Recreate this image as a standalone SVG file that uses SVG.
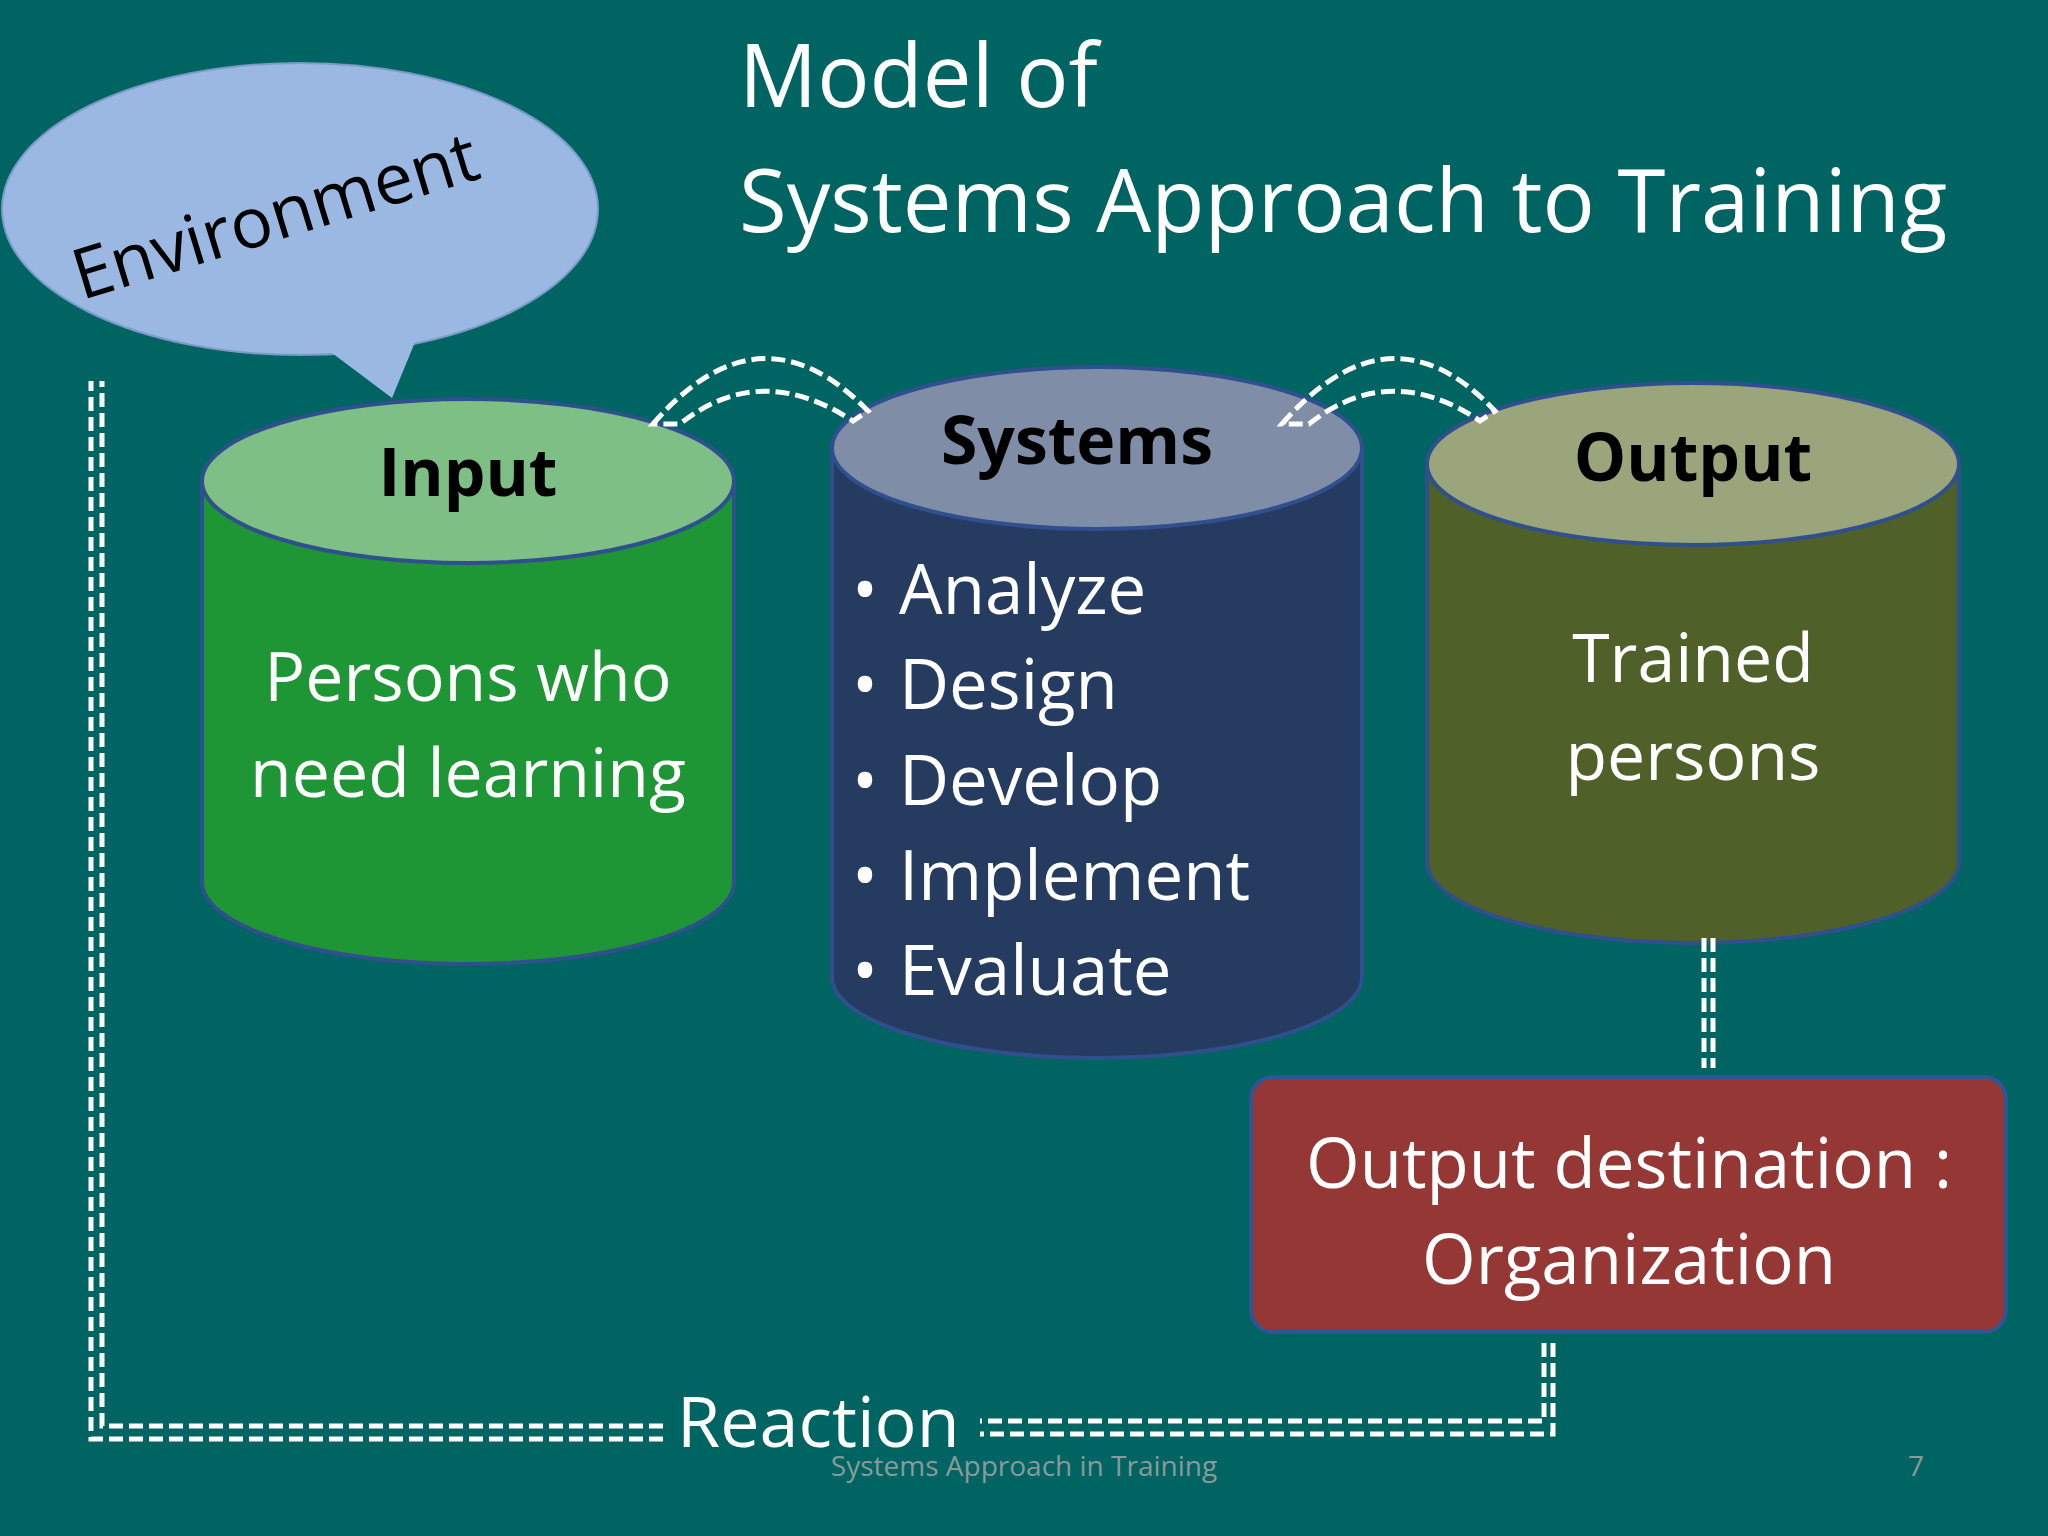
<svg xmlns="http://www.w3.org/2000/svg" width="2048" height="1536" viewBox="0 0 2048 1536">
<style>
.t{font-family:"Open Sans","Noto Sans",sans-serif}
.w{fill:#fff}
.b{fill:#000;font-weight:bold}
.d{fill:none;stroke:#fff;stroke-width:5;stroke-dasharray:14 6}
.cs{stroke:#2f4f8f;stroke-width:4}
</style>
<rect width="2048" height="1536" fill="#006462"/>
<g id="environment">
<ellipse cx="300" cy="209" rx="298" ry="146" fill="#9ab8e2" stroke="#7a9bc8" stroke-width="2"/>
<path d="M308 335 L392 398 L420 330" fill="#9ab8e2"/>
<text class="t" x="275" y="240" font-size="70" fill="#000" text-anchor="middle" transform="rotate(-17 275 215)">Environment</text>
</g>
<g id="title">
<text class="t w" x="739" y="107" font-size="87">Model of</text>
<text class="t w" x="739" y="232" font-size="87">Systems Approach to Training</text>
</g>
<g id="input">
<path class="cs" d="M202 481 V882 A266 82 0 0 0 734 882 V481" fill="#1f9635"/>
<ellipse class="cs" cx="468" cy="481" rx="266" ry="82" fill="#7dbf84"/>
<text class="t b" x="468" y="496" font-size="66" text-anchor="middle">Input</text>
<text class="t w" x="468" y="701" font-size="68" text-anchor="middle">Persons who</text>
<text class="t w" x="468" y="797" font-size="68" text-anchor="middle">need learning</text>
</g>
<g id="systems">
<path class="cs" d="M832 448 V977 A265 81 0 0 0 1362 977 V448" fill="#253c60"/>
<ellipse class="cs" cx="1097" cy="448" rx="265" ry="81" fill="#7f8da6"/>
<text class="t b" x="1077" y="464" font-size="66" text-anchor="middle">Systems</text>
<text class="t w" font-size="69"><tspan x="852" y="614">•</tspan><tspan x="899" y="614">Analyze</tspan><tspan x="852" y="709">•</tspan><tspan x="899" y="709">Design</tspan><tspan x="852" y="805">•</tspan><tspan x="899" y="805">Develop</tspan><tspan x="852" y="900">•</tspan><tspan x="899" y="900">Implement</tspan><tspan x="852" y="995">•</tspan><tspan x="899" y="995">Evaluate</tspan></text>
</g>
<g id="output">
<path class="cs" d="M1427 464 V862 A266 81 0 0 0 1959 862 V464" fill="#4f6128"/>
<ellipse class="cs" cx="1693" cy="464" rx="266" ry="81" fill="#9aa57b"/>
<text class="t b" x="1693" y="481" font-size="66" text-anchor="middle">Output</text>
<text class="t w" x="1693" y="682" font-size="68" text-anchor="middle">Trained</text>
<text class="t w" x="1693" y="780" font-size="68" text-anchor="middle">persons</text>
</g>
<g id="destination">
<rect x="1251" y="1077" width="755" height="255" rx="22" fill="#953735" stroke="#2f5597" stroke-width="4"/>
<text class="t w" x="1629" y="1188" font-size="69" text-anchor="middle">Output destination :</text>
<text class="t w" x="1629" y="1284" font-size="69" text-anchor="middle">Organization</text>
</g>
<g id="connectors">
<path class="d" d="M653 424 Q760 300 868 411 L853 421 Q760 360 680 424 Z"/>
<path class="d" d="M1282 424 Q1390 300 1495 411 L1480 421 Q1390 360 1309 424 Z"/>
<path class="d" d="M1704 938 V1068 M1713 938 V1068"/>
<path class="d" d="M1544 1343 V1421 H980 M1553 1343 V1434 H980"/>
<path class="d" d="M663 1426 H102 V381 M663 1439 H91 V381"/>
<text class="t w" x="677" y="1447" font-size="70">Reaction</text>
</g>
<g id="footer">
<text class="t" x="1024" y="1476" font-size="28" fill="#8a9a9a" text-anchor="middle">Systems Approach in Training</text>
<text class="t" x="1916" y="1476" font-size="28" fill="#8a9a9a" text-anchor="middle">7</text>
</g>
</svg>
